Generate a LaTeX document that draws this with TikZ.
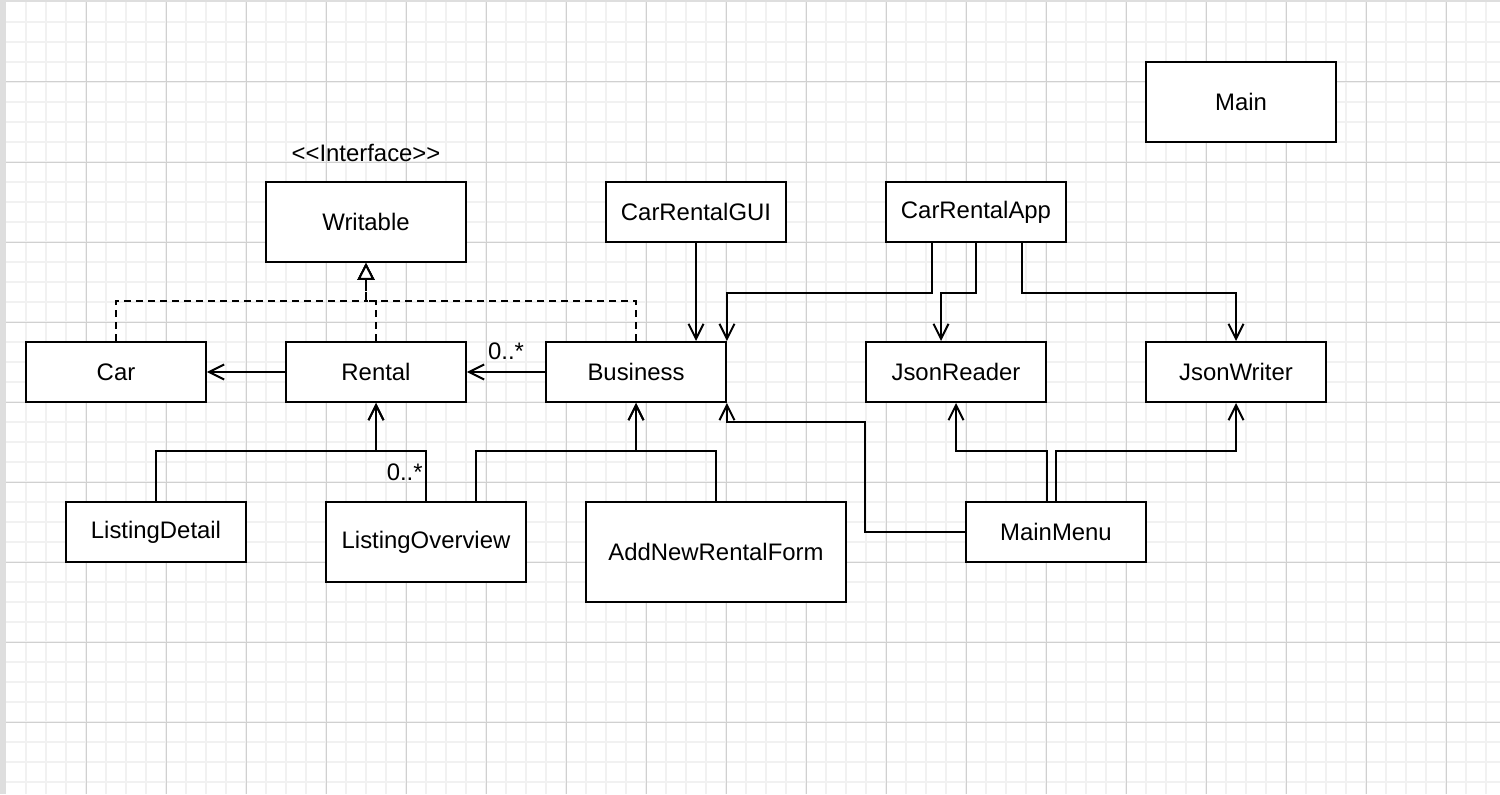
\documentclass[tikz,border=0pt]{standalone}
\usepackage{fontspec}
\setmainfont{Liberation Sans}
\usetikzlibrary{arrows.meta}
\definecolor{gridmajor}{RGB}{208,208,208}
\definecolor{gridminor}{RGB}{241,241,241}
\definecolor{edgegray}{RGB}{222,222,222}
\tikzset{
  box/.style={draw=black, line width=0.04cm, fill=white, inner sep=0pt,
    font=\fontsize{13.6pt}{16pt}\selectfont},
  plain/.style={inner sep=0pt, font=\fontsize{13.6pt}{16pt}\selectfont},
  assoc/.style={line width=0.04cm, line join=miter,
    -{Straight Barb[length=0.3cm, width=0.3cm, line width=0.04cm]}},
  realize/.style={line width=0.04cm, dash pattern=on 0.14cm off 0.1cm,
    -{Triangle[open, fill=white, length=0.34cm, width=0.34cm, line width=0.04cm]}},
  minorline/.style={draw=gridminor, line width=0.04cm},
  majorline/.style={draw=gridmajor, line width=0.02cm},
}
\begin{document}
\begin{tikzpicture}[x=0.02cm, y=-0.02cm]
\useasboundingbox (0,0) rectangle (1500,794);
\fill[white] (0,0) rectangle (1500,794);
% grid
\foreach \gx in {26,46,...,1486} \draw[minorline] (\gx,2) -- (\gx,794);
\foreach \gy in {22,42,...,782} \draw[minorline] (6,\gy) -- (1500,\gy);
\foreach \gx in {86,166,...,1446} \draw[majorline] (\gx,2) -- (\gx,794);
\foreach \gy in {82,162,...,722} \draw[majorline] (6,\gy) -- (1500,\gy);
\fill[edgegray] (0,0) rectangle (6,794);
\fill[edgegray] (0,0) rectangle (1500,2);

% nodes
\node[plain] (iface) at (366,153) {<\kern0pt<Interface>\kern0pt>};
\node[box, minimum width=4cm, minimum height=1.6cm] (Writable) at (366,222) {Writable};
\node[box, minimum width=3.6cm, minimum height=1.2cm] (Car) at (116,372) {Car};
\node[box, minimum width=3.6cm, minimum height=1.2cm] (Rental) at (376,372) {Rental};
\node[box, minimum width=3.6cm, minimum height=1.2cm] (Business) at (636,372) {Business};
\node[box, minimum width=3.6cm, minimum height=1.2cm] (GUI) at (696,212) {CarRentalGUI};
\node[box, minimum width=3.6cm, minimum height=1.2cm] (App) at (976,212) {CarRentalApp};
\node[box, minimum width=3.6cm, minimum height=1.2cm] (JsonReader) at (956,372) {JsonReader};
\node[box, minimum width=3.6cm, minimum height=1.2cm] (JsonWriter) at (1236,372) {JsonWriter};
\node[box, minimum width=3.8cm, minimum height=1.6cm] (Main) at (1241,102) {Main};
\node[box, minimum width=3.6cm, minimum height=1.2cm] (Detail) at (156,532) {ListingDetail};
\node[box, minimum width=4cm, minimum height=1.6cm] (Overview) at (426,542) {ListingOverview};
\node[box, minimum width=5.2cm, minimum height=2cm] (Form) at (716,552) {AddNewRentalForm};
\node[box, minimum width=3.6cm, minimum height=1.2cm] (MainMenu) at (1056,532) {MainMenu};

% realizations
\draw[realize] (Car.north) -- ++(0,-40) -| (Writable.south);
\draw[realize] (Rental.north) -- ++(0,-40) -| (Writable.south);
\draw[realize] (Business.north) -- ++(0,-40) -| (Writable.south);

% associations
\draw[assoc] (Rental.west) -- (Car.east);
\draw[assoc] (Business.west) -- node[plain, midway, above=0.22cm] {0..*} (Rental.east);
\draw[assoc] (GUI.south) -- (GUI.south |- Business.north);
\draw[assoc] ([xshift=-0.88cm]App.south) -- ++(0,50) -| (Business.north east);
\draw[assoc] (App.south) -- ++(0,50) -| ([xshift=-0.3cm]JsonReader.north);
\draw[assoc] ([xshift=0.92cm]App.south) -- ++(0,50) -| (JsonWriter.north);
\draw[assoc] (MainMenu.west) -- ++(-100,0) -- ++(0,-110) -| (Business.south east);
\draw[assoc] ([xshift=-0.18cm]MainMenu.north) -- ++(0,-50) -| (JsonReader.south);
\draw[assoc] (MainMenu.north) -- ++(0,-50) -| (JsonWriter.south);
\draw[assoc] (Detail.north) -- ++(0,-50) -| (Rental.south);
\draw[assoc] (Overview.north) -- ++(0,-50) -| (Rental.south);
\node[plain, anchor=base east] (mult2) at ([xshift=-0.06cm, yshift=0.42cm]Overview.north) {0..*};
\draw[assoc] ([xshift=1cm]Overview.north) -- ++(0,-50) -| (Business.south);
\draw[assoc] (Form.north) -- ++(0,-50) -| (Business.south);
\end{tikzpicture}
\end{document}
